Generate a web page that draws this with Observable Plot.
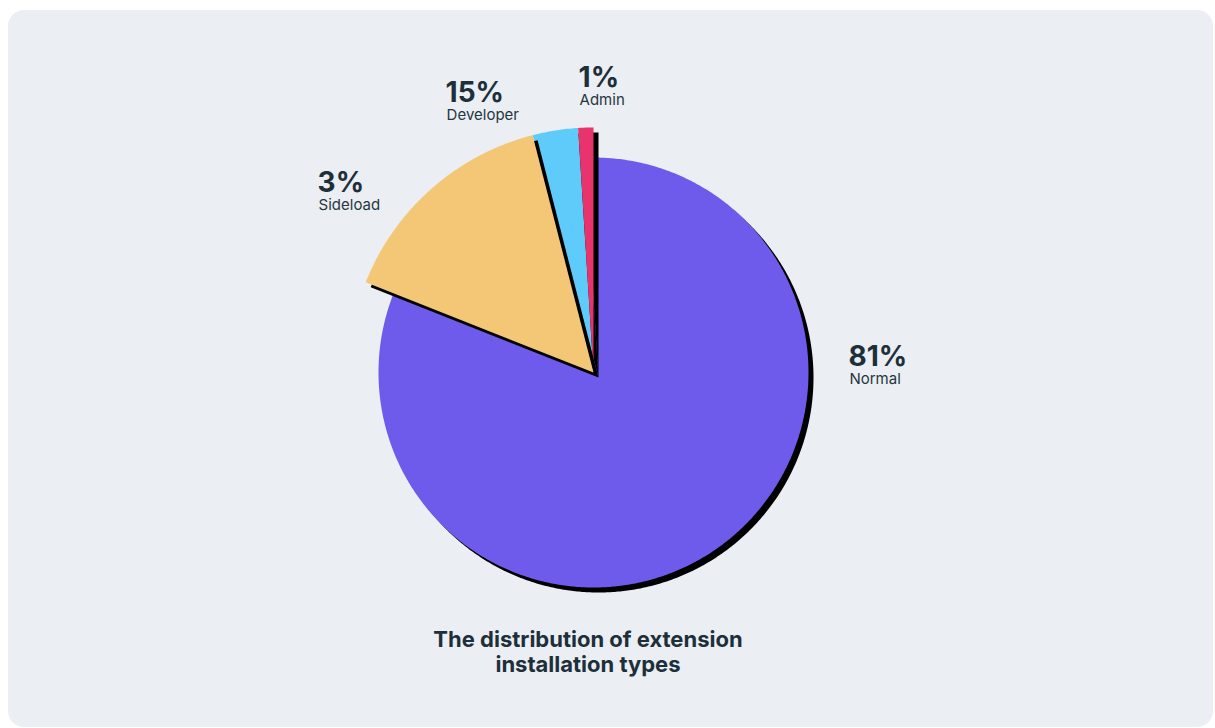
<!DOCTYPE html>
<html>
<head>
<meta charset="utf-8">
<script src="https://cdn.jsdelivr.net/npm/d3@7"></script>
<script src="https://cdn.jsdelivr.net/npm/@observablehq/plot@0.6"></script>
<style>
  html, body { margin: 0; padding: 0; background: #ffffff; }
  #wrap { position: relative; width: 1215px; height: 728px; overflow: hidden; font-family: Inter, "Noto Sans", sans-serif; }
  #panel { position: absolute; left: 8px; top: 10px; width: 1205px; height: 717px; background: #ebeef2; border-radius: 16px; }
  #chart { position: absolute; left: 0; top: 0; }
  #title { position: absolute; left: 288px; top: 627px; width: 600px; text-align: center;
           font-weight: 700; font-size: 22px; line-height: 25px; color: #1d2f3a; }
</style>
</head>
<body>
<div id="wrap">
  <div id="panel"></div>
  <div id="chart"></div>
  <div id="title">The distribution of extension<br>installation types</div>
</div>
<script>
// ---- data ----
const categories = ["Normal", "Sideload", "Developer", "Admin"];
const sliceShares = [81, 15, 3, 1];          // angular size of each wedge as drawn
const printedPercents = [81, 3, 15, 1];      // percentages printed beside each wedge

// ---- styles / layout ----
const palette = ["#6e5bec", "#f4c777", "#5ecbfa", "#e8336c"];
const drawOrder = ["Normal", "Developer", "Admin", "Sideload"];
const W = 1215, H = 620;
const CX = 593, CY = 372;
const R_MAJOR = 215, R_MINOR = 245;
const SHADOW = 5;
const textColor = "#1d2f3a";

const total = d3.sum(sliceShares);
let acc = 0;
const slices = categories.map((c, i) => {
  const a0 = acc / total * 360;
  acc += sliceShares[i];
  const a1 = acc / total * 360;
  return {category: c, share: sliceShares[i], pct: printedPercents[i], color: palette[i], a0, a1};
});
const maxShare = d3.max(sliceShares);
slices.forEach(s => { s.r = s.share === maxShare ? R_MAJOR : R_MINOR; });

const rad = d => d * Math.PI / 180;
const px = (a, r) => CX + r * Math.sin(rad(a));
const py = (a, r) => CY - r * Math.cos(rad(a));

function wedgePoints(s) {
  const pts = [{x: CX, y: CY}];
  const n = Math.max(2, Math.ceil((s.a1 - s.a0) / 0.5));
  for (let k = 0; k <= n; k++) {
    const a = s.a0 + (s.a1 - s.a0) * k / n;
    pts.push({x: px(a, s.r), y: py(a, s.r)});
  }
  pts.push({x: CX, y: CY});
  return pts;
}

// label layout: major wedge label to the right, minor wedge labels fanned from the top
const minors = slices.filter(s => s.share !== maxShare).sort((a, b) => b.a1 - a.a1);
minors.forEach((s, k) => { s.la = 357 - 27 * k + (k === 1 ? 1.2 : 0); s.lr = R_MINOR + 40 + 22 * k; });
slices.filter(s => s.share === maxShare).forEach(s => { s.la = 88.8; s.lr = R_MAJOR + 40; });
slices.forEach(s => { s.lx = px(s.la, s.lr); s.ly = py(s.la, s.lr); });

const marks = [];
drawOrder.forEach(name => {
  const s = slices.find(d => d.category === name);
  const pts = wedgePoints(s);
  marks.push(Plot.line(pts, {x: "x", y: "y", fill: "#000000", stroke: "none", dx: SHADOW, dy: SHADOW}));
  marks.push(Plot.line(pts, {x: "x", y: "y", fill: s.color, stroke: "none"}));
});
marks.push(Plot.text(slices, {
  x: "lx", y: "ly", text: d => d.pct + "%", dy: -1,
  textAnchor: "start", lineAnchor: "bottom",
  fontSize: 28, fontWeight: 700, fill: textColor, fontFamily: "Inter"
}));
marks.push(Plot.text(slices, {
  x: "lx", y: "ly", text: "category", dx: 1, dy: 17,
  textAnchor: "start", lineAnchor: "bottom",
  fontSize: 15, fontWeight: 400, fill: "#26363f", fontFamily: "Inter"
}));

const chart = Plot.plot({
  width: W, height: H,
  margin: 0,
  x: {domain: [0, W], range: [0, W], axis: null},
  y: {domain: [0, H], range: [0, H], axis: null},
  style: {background: "transparent", overflow: "visible"},
  marks
});
document.getElementById("chart").appendChild(chart);
</script>
</body>
</html>
